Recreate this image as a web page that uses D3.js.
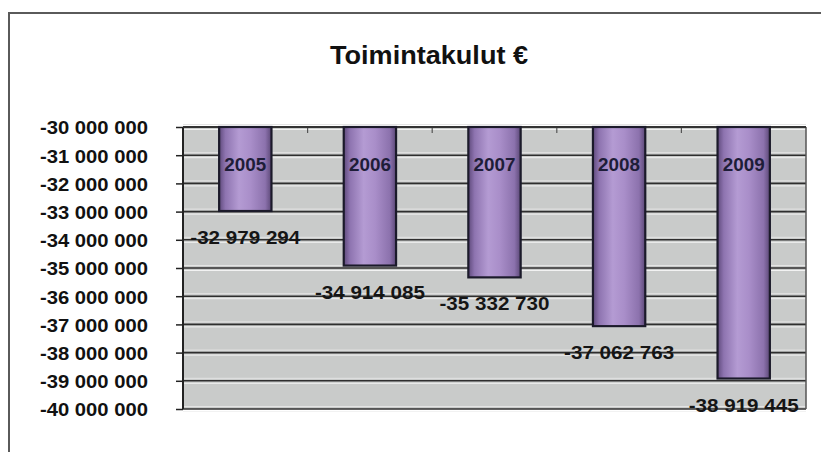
<!DOCTYPE html>
<html>
<head>
<meta charset="utf-8">
<script src="https://cdn.jsdelivr.net/npm/d3@7"></script>
<style>
    body { margin: 0; background: #fff; }
    svg { display: block; font-family: "Liberation Sans", Arial, sans-serif; }
</style>
</head>
<body>
<svg id="chart" width="821" height="452"></svg>
<script>
// data
var years = ["2005", "2006", "2007", "2008", "2009"];
var costs = [-32979294, -34914085, -35332730, -37062763, -38919445];
var yTicks = [-30000000, -31000000, -32000000, -33000000, -34000000, -35000000,
              -36000000, -37000000, -38000000, -39000000, -40000000];
var title = "Toimintakulut €";

function drawChart(){
    var svg = d3.select("#chart");
    var pLeft = 183, pRight = 806, pTop = 127, pBottom = 409;

    var x = d3.scaleBand().domain(years).range([pLeft, pRight]).paddingInner(0.58).paddingOuter(0.29);
    var y = d3.scaleLinear().domain([-30000000, -40000000]).range([pTop, pBottom]);

    function fmt(v){
        // "-32 979 294" style: space as thousands separator, plain hyphen
        return d3.format(",")(v).replace(/,/g, " ").replace("\u2212", "-");
    }

    // outer frame
    svg.append("path")
        .attr("d", "M9,452 V13 H821")
        .attr("fill", "none")
        .attr("stroke", "#5a5a5a")
        .attr("stroke-width", 2);

    // title
    svg.append("text")
        .attr("x", 429).attr("y", 64)
        .attr("text-anchor", "middle")
        .attr("font-size", 25).attr("font-weight", "bold")
        .attr("fill", "#111")
        .attr("textLength", 198).attr("lengthAdjust", "spacingAndGlyphs")
        .text(title);

    // plot background
    svg.append("rect")
        .attr("x", pLeft).attr("y", pTop)
        .attr("width", pRight - pLeft).attr("height", pBottom - pTop)
        .attr("fill", "#c9cbca");

    // grid: white highlight round each dark line
    var grid = svg.append("g");
    grid.selectAll("line.hl").data(yTicks).enter().append("line")
        .attr("class", "hl")
        .attr("x1", pLeft).attr("x2", pRight)
        .attr("y1", function(d){ return y(d) + 2.5; })
        .attr("y2", function(d){ return y(d) + 2.5; })
        .attr("stroke", "#f2f2f2").attr("stroke-width", 1);
    grid.selectAll("line.hl2").data(yTicks).enter().append("line")
        .attr("class", "hl2")
        .attr("x1", pLeft).attr("x2", pRight)
        .attr("y1", function(d){ return y(d) - 2.5; })
        .attr("y2", function(d){ return y(d) - 2.5; })
        .attr("stroke", "#e4e4e4").attr("stroke-width", 1);
    grid.selectAll("line.gl").data(yTicks).enter().append("line")
        .attr("class", "gl")
        .attr("x1", pLeft).attr("x2", pRight)
        .attr("y1", function(d){ return y(d); })
        .attr("y2", function(d){ return y(d); })
        .attr("stroke", "#2e2e2e").attr("stroke-width", 1.6);

    // plot edges
    svg.append("line")
        .attr("x1", pLeft).attr("x2", pLeft).attr("y1", pTop).attr("y2", pBottom)
        .attr("stroke", "#222").attr("stroke-width", 2);
    svg.append("line")
        .attr("x1", pRight).attr("x2", pRight).attr("y1", pTop).attr("y2", pBottom)
        .attr("stroke", "#555").attr("stroke-width", 1.5);

    // y axis
    var yAxis = d3.axisLeft(y).tickValues(yTicks).tickSize(7).tickFormat(fmt);
    var ya = svg.append("g").attr("transform", "translate(" + pLeft + ",0)").call(yAxis);
    ya.select(".domain").remove();
    ya.selectAll(".tick line").attr("stroke", "#222").attr("stroke-width", 1.5);
    ya.selectAll(".tick text")
        .attr("x", -35)
        .attr("dy", "0.36em")
        .attr("font-size", 19).attr("font-weight", "bold")
        .attr("fill", "#111")
        .attr("font-family", "Liberation Sans, Arial, sans-serif")
        .attr("textLength", 108).attr("lengthAdjust", "spacingAndGlyphs");

    // category axis sits on top (crosses at -30 000 000)
    var step = x.step();
    var bounds = d3.range(years.length + 1).map(function(i){ return pLeft + i * step; });
    svg.selectAll("line.ctick").data(bounds.slice(1, -1)).enter().append("line")
        .attr("class", "ctick")
        .attr("x1", function(d){ return d; }).attr("x2", function(d){ return d; })
        .attr("y1", pTop).attr("y2", pTop + 6)
        .attr("stroke", "#555").attr("stroke-width", 1.2);
    svg.append("line")
        .attr("x1", pLeft).attr("x2", pRight).attr("y1", pTop).attr("y2", pTop)
        .attr("stroke", "#333").attr("stroke-width", 2);

    // bar gradient, cylinder look
    var grad = svg.append("defs").append("linearGradient")
        .attr("id", "barGrad").attr("x1", "0").attr("x2", "1").attr("y1", "0").attr("y2", "0");
    [[0, "#5f4a7c"], [0.12, "#8e74b0"], [0.38, "#b49bd3"], [0.6, "#a98ec9"], [0.88, "#8c72ad"], [1, "#5c4877"]]
        .forEach(function(s){
            grad.append("stop").attr("offset", s[0]).attr("stop-color", s[1]);
        });

    var bars = svg.append("g");
    bars.selectAll("rect").data(costs).enter().append("rect")
        .attr("x", function(d, i){ return x(years[i]); })
        .attr("y", pTop)
        .attr("width", x.bandwidth())
        .attr("height", function(d){ return y(d) - pTop; })
        .attr("fill", "url(#barGrad)")
        .attr("stroke", "#1b1a2a").attr("stroke-width", 2.2);

    // year labels inside the bars
    bars.selectAll("text.yr").data(years).enter().append("text")
        .attr("class", "yr")
        .attr("x", function(d){ return x(d) + x.bandwidth() / 2; })
        .attr("y", 171)
        .attr("text-anchor", "middle")
        .attr("font-size", 19).attr("font-weight", "bold")
        .attr("fill", "#1e1d38")
        .attr("textLength", 42).attr("lengthAdjust", "spacingAndGlyphs")
        .text(function(d){ return d; });

    // value labels below the bar ends
    bars.selectAll("text.val").data(costs).enter().append("text")
        .attr("class", "val")
        .attr("x", function(d, i){ return x(years[i]) + x.bandwidth() / 2; })
        .attr("y", function(d){ return y(d) + 33; })
        .attr("text-anchor", "middle")
        .attr("font-size", 19).attr("font-weight", "bold")
        .attr("fill", "#151515")
        .attr("textLength", 110).attr("lengthAdjust", "spacingAndGlyphs")
        .text(fmt);
}

drawChart();
</script>
</body>
</html>
